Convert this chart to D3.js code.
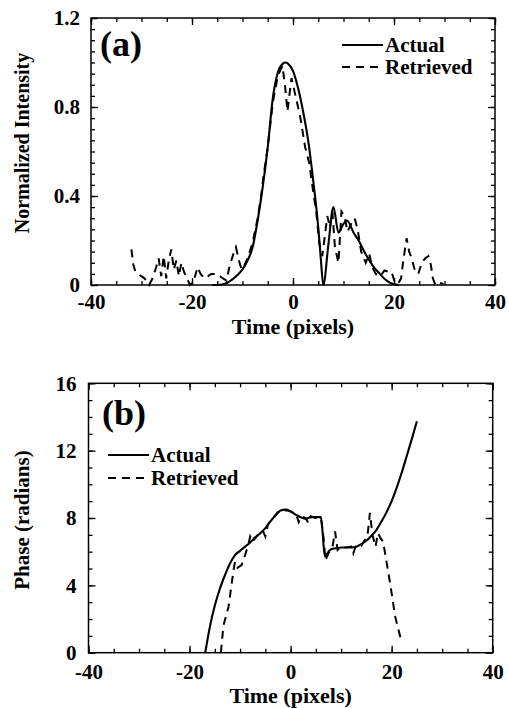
<!DOCTYPE html>
<html>
<head>
<meta charset="utf-8">
<script src="https://cdn.jsdelivr.net/npm/d3@7"></script>
<style>
  html, body { margin: 0; padding: 0; background: #fff; }
  svg { display: block; }
  text { font-family: "Liberation Serif", "Times New Roman", Times, serif; font-weight: bold; fill: #000; }
</style>
</head>
<body>
<svg id="chart" width="509" height="708"></svg>
<script>
// ---- shared time axis ----
const timeDomain = [-40, 40];
const timeTicks = [-40, -20, 0, 20, 40];
const seriesNames = ["Actual", "Retrieved"];

// ---- panel (a): normalized intensity ----
const intensityTicks = [0, 0.4, 0.8, 1.2];
const intensityTickLabels = ["0", "0.4", "0.8", "1.2"];

const actualIntensityTime = [-16, -15, -14, -13, -12, -11, -10, -9, -8, -7, -6, -5, -4, -3, -2, -1.5, -1, 0, 1, 2, 3, 4, 5, 5.5, 6, 7, 8, 9, 10, 10.7, 12, 13, 14, 15, 16, 17, 18, 19, 20, 21];
const actualIntensity     = [0, 0, 0.002, 0.01, 0.025, 0.045, 0.07, 0.11, 0.17, 0.29, 0.44, 0.62, 0.84, 0.955, 0.995, 1.0, 0.995, 0.962, 0.885, 0.78, 0.65, 0.47, 0.26, 0.12, 0, 0.18, 0.35, 0.235, 0.275, 0.29, 0.235, 0.2, 0.155, 0.115, 0.08, 0.055, 0.03, 0.013, 0.003, 0];

const retrievedIntensityTime = [-32, -31.6, -31.2, -30.4, -29.4, -28.5, -27.8, -27.1, -26.6, -26.1, -25.6, -25.1, -24.6, -24.1, -23.6, -23.1, -22.6, -22.1, -21.6, -21, -20.4, -19.7, -18.9, -18.3, -17.6, -16.8, -16.2, -15, -14.2, -13.2, -12.5, -11.8, -11.3, -10.7, -10.2, -9.6, -9, -8, -7, -6.3, -5.9, -5, -4, -3, -2.1, -1.6, -1.1, -0.3, 0.5, 1.4, 2.4, 3.2, 4, 4.6, 5.2, 5.8, 6.3, 6.8, 7.3, 7.8, 8.3, 9, 9.6, 10.2, 10.8, 11.4, 12.2, 12.8, 13.5, 14.4, 15.1, 15.7, 16.4, 17.3, 18.1, 18.8, 19.5, 20.2, 20.8, 21.4, 21.9, 22.5, 23, 23.5, 24.2, 24.8, 25.5, 26.2, 26.8, 27.3, 27.7, 28.2, 29, 29.8];
const retrievedIntensity     = [0.16, 0.09, 0.06, 0.045, 0.03, 0, 0.03, 0.08, 0.12, 0.04, 0.13, 0.03, 0.11, 0.16, 0.07, 0.11, 0.04, 0.1, 0.06, 0.03, 0, 0.015, 0.08, 0.05, 0.03, 0.04, 0.05, 0.05, 0.035, 0.02, 0.09, 0.14, 0.17, 0.11, 0.07, 0.09, 0.12, 0.19, 0.3, 0.4, 0.48, 0.62, 0.82, 0.94, 0.985, 0.9, 0.78, 0.93, 0.85, 0.76, 0.62, 0.55, 0.42, 0.33, 0.19, 0.13, 0.22, 0.31, 0.26, 0.33, 0.17, 0.1, 0.33, 0.31, 0.24, 0.27, 0.3, 0.25, 0.15, 0.1, 0.14, 0.08, 0.05, 0.04, 0.065, 0.06, 0.06, 0.01, 0.005, 0.03, 0.12, 0.21, 0.15, 0.12, 0.06, 0.05, 0.1, 0.12, 0.13, 0.09, 0.03, 0, 0.01, 0.005];

// ---- panel (b): phase ----
const phaseTicks = [0, 4, 8, 12, 16];
const phaseTickLabels = ["0", "4", "8", "12", "16"];

const actualPhaseTime = [-16.9, -16, -15, -14, -13, -12, -11, -10, -9, -8, -7, -6, -5, -4, -3, -2, -1, 0, 1, 2, 3, 4, 5, 6, 6.8, 7.5, 8, 9, 10, 11, 12, 13, 14, 15, 16, 17, 18, 19, 20, 21, 22, 23, 24, 25];
const actualPhase     = [0, 1.5, 2.8, 3.8, 4.6, 5.3, 5.8, 6.05, 6.3, 6.55, 6.85, 7.1, 7.4, 7.8, 8.15, 8.45, 8.5, 8.4, 8.2, 8.05, 7.95, 8.05, 8.05, 8.05, 5.7, 6.0, 6.15, 6.2, 6.25, 6.25, 6.25, 6.3, 6.45, 6.65, 6.95, 7.3, 7.8, 8.35, 9.0, 9.8, 10.7, 11.7, 12.7, 13.75];

const retrievedPhaseTime = [-13.8, -13.3, -12.3, -11.8, -11.3, -11, -10.5, -9.7, -9, -8.3, -8, -7.5, -6.5, -5.5, -5, -4.5, -3.5, -2.5, -1.5, -0.5, 0.5, 1.2, 1.6, 2.2, 3, 3.5, 4, 5, 6, 6.5, 6.9, 7.5, 8.3, 8.8, 9.3, 10, 11, 12, 12.4, 13, 14, 14.5, 15.2, 15.7, 16.2, 16.8, 17.3, 17.8, 18.3, 18.7, 19.7, 20.7, 21.4, 22];
const retrievedPhase     = [0, 1.6, 2.7, 3.8, 4.9, 5.4, 5.05, 5.2, 5.8, 6.5, 6.9, 6.6, 7.0, 7.25, 6.9, 7.6, 8.0, 8.35, 8.45, 8.45, 8.3, 8.15, 7.75, 8.1, 8.0, 7.7, 8.1, 8.0, 8.0, 6.9, 5.5, 5.9, 6.3, 7.2, 6.1, 6.3, 6.25, 6.3, 5.9, 6.4, 6.35, 6.6, 6.9, 8.3, 7.0, 6.3, 7.1, 6.8, 6.6, 5.9, 4.12, 2.14, 1.3, 0.6];

// ---- drawing ----
const svg = d3.select("#chart");
const DASH = "8,6";

function drawPanel(p) {
  const x = d3.scaleLinear().domain(timeDomain).range([p.box.left, p.box.right]);
  const y = d3.scaleLinear().domain(p.yDomain).range([p.box.bottom, p.box.top]);
  const g = svg.append("g");

  const xMinor = d3.range(timeDomain[0], timeDomain[1] + 1e-9, 5);
  const yMinor = d3.range(p.yDomain[0], p.yDomain[1] + 1e-9, p.yMinorStep);

  const styleAxis = sel => {
    sel.select(".domain").remove();
    sel.attr("font-family", null).attr("font-size", p.tickFont);
    sel.selectAll(".tick line").attr("stroke-width", 1.3);
  };

  // minor ticks, all four sides, pointing inward
  g.append("g").attr("transform", `translate(0,${p.box.bottom})`)
    .call(d3.axisBottom(x).tickValues(xMinor).tickSize(-4).tickFormat("")).call(styleAxis);
  g.append("g").attr("transform", `translate(0,${p.box.top})`)
    .call(d3.axisTop(x).tickValues(xMinor).tickSize(-4).tickFormat("")).call(styleAxis);
  g.append("g").attr("transform", `translate(${p.box.left},0)`)
    .call(d3.axisLeft(y).tickValues(yMinor).tickSize(-4).tickFormat("")).call(styleAxis);
  g.append("g").attr("transform", `translate(${p.box.right},0)`)
    .call(d3.axisRight(y).tickValues(yMinor).tickSize(-4).tickFormat("")).call(styleAxis);

  // major ticks with labels
  g.append("g").attr("transform", `translate(0,${p.box.bottom})`)
    .call(d3.axisBottom(x).tickValues(timeTicks).tickSize(-7).tickPadding(p.xPad).tickFormat(d => String(d)))
    .call(styleAxis);
  g.append("g").attr("transform", `translate(0,${p.box.top})`)
    .call(d3.axisTop(x).tickValues(timeTicks).tickSize(-7).tickFormat("")).call(styleAxis);
  g.append("g").attr("transform", `translate(${p.box.left},0)`)
    .call(d3.axisLeft(y).tickValues(p.yTicks).tickSize(-7).tickPadding(p.yPad)
      .tickFormat((d, i) => p.yLabels[i]))
    .call(styleAxis);
  g.append("g").attr("transform", `translate(${p.box.right},0)`)
    .call(d3.axisRight(y).tickValues(p.yTicks).tickSize(-7).tickFormat("")).call(styleAxis);

  // frame
  g.append("rect")
    .attr("x", p.box.left).attr("y", p.box.top)
    .attr("width", p.box.right - p.box.left).attr("height", p.box.bottom - p.box.top)
    .attr("fill", "none").attr("stroke", "#000").attr("stroke-width", 1.5);

  // curves
  const line = curve => d3.line().x(d => x(d[0])).y(d => y(d[1])).curve(curve);
  g.append("path").datum(d3.zip(p.actualT, p.actualV))
    .attr("d", line(d3.curveMonotoneX))
    .attr("fill", "none").attr("stroke", "#000").attr("stroke-width", 2.1)
    .attr("stroke-linejoin", "round");
  g.append("path").datum(d3.zip(p.retrT, p.retrV))
    .attr("d", line(d3.curveLinear))
    .attr("fill", "none").attr("stroke", "#000").attr("stroke-width", 2)
    .attr("stroke-dasharray", DASH);

  // axis titles
  g.append("text")
    .attr("x", (p.box.left + p.box.right) / 2).attr("y", p.xTitleY)
    .attr("text-anchor", "middle").attr("font-size", 22)
    .text("Time (pixels)");
  g.append("text")
    .attr("transform", `translate(${p.yTitleX},${p.yTitleY}) rotate(-90)`)
    .attr("text-anchor", "middle").attr("font-size", p.yTitleSize)
    .text(p.yTitle);

  // panel tag
  g.append("text").attr("x", p.tag.x).attr("y", p.tag.y)
    .attr("font-size", 36).text(p.tag.label);

  // legend
  const lg = g.append("g");
  seriesNames.forEach((name, i) => {
    const ly = p.legend.y[i];
    lg.append("line")
      .attr("x1", p.legend.x1).attr("x2", p.legend.x2)
      .attr("y1", ly).attr("y2", ly)
      .attr("stroke", "#000").attr("stroke-width", 2)
      .attr("stroke-dasharray", i === 1 ? DASH : null);
    lg.append("text")
      .attr("x", p.legend.x2 + 2).attr("y", ly + 7)
      .attr("font-size", 21).text(name);
  });
}

drawPanel({
  box: { left: 91, right: 495, top: 18, bottom: 285 },
  yDomain: [0, 1.2], yTicks: intensityTicks, yLabels: intensityTickLabels, yMinorStep: 0.05,
  tickFont: 21, xPad: 9, yPad: 11,
  xTitleY: 334, yTitle: "Normalized Intensity", yTitleSize: 20, yTitleX: 29, yTitleY: 143,
  tag: { label: "(a)", x: 100, y: 56 },
  legend: { x1: 342, x2: 383, y: [45, 67] },
  actualT: actualIntensityTime, actualV: actualIntensity,
  retrT: retrievedIntensityTime, retrV: retrievedIntensity
});

drawPanel({
  box: { left: 88.5, right: 492.7, top: 383.3, bottom: 652.7 },
  yDomain: [0, 16], yTicks: phaseTicks, yLabels: phaseTickLabels, yMinorStep: 1,
  tickFont: 21, xPad: 11, yPad: 12,
  xTitleY: 703, yTitle: "Phase (radians)", yTitleSize: 21, yTitleX: 29, yTitleY: 520,
  tag: { label: "(b)", x: 102, y: 425 },
  legend: { x1: 108, x2: 149, y: [455, 478] },
  actualT: actualPhaseTime, actualV: actualPhase,
  retrT: retrievedPhaseTime, retrV: retrievedPhase
});
</script>
</body>
</html>
